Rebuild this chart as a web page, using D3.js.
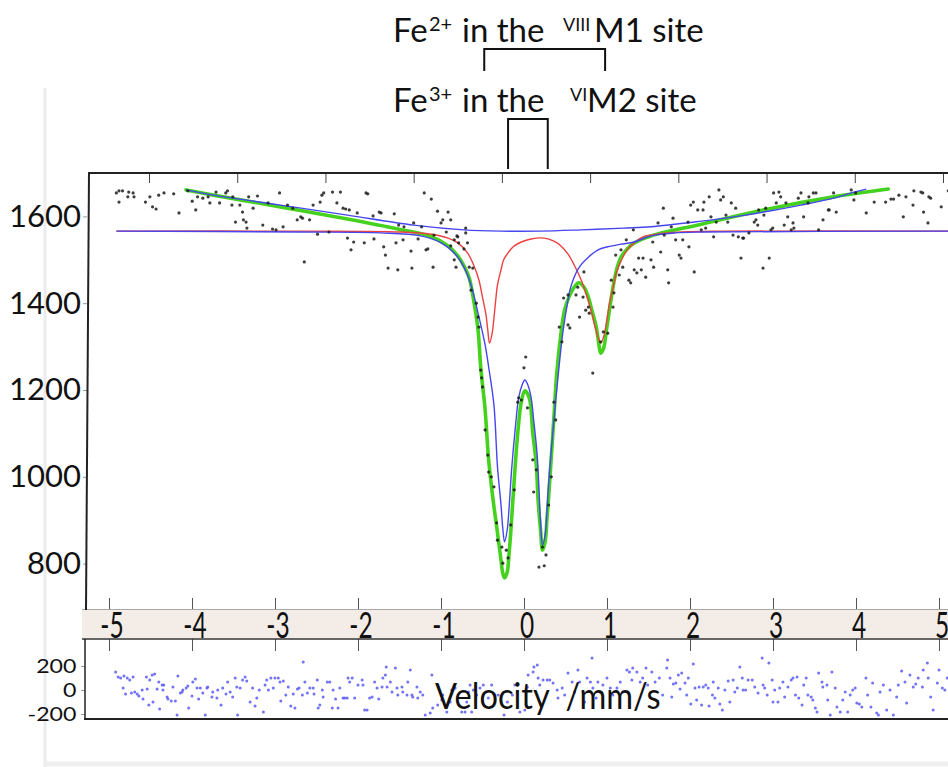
<!DOCTYPE html>
<html>
<head>
<meta charset="utf-8">
<script src="https://cdn.jsdelivr.net/npm/d3@7"></script>
<style>
  html, body { margin: 0; padding: 0; background: #fff; }
  svg { display: block; font-family: Lato, "Open Sans", sans-serif; }
</style>
</head>
<body>
<svg id="chart" width="948" height="767"></svg>
<script>
// ---- Mössbauer spectrum: measured counts vs velocity (mm/s) ----
const spectrum = [
[-4.37,1654],[-4.34,1659],[-4.30,1659],[-4.34,1633],[-4.23,1656],[-4.18,1654],[-4.24,1645],[-4.17,1645],[-4.04,1633],[-3.99,1645],
[-3.96,1622],[-3.92,1617],[-3.89,1649],[-3.83,1654],[-3.72,1652],[-3.66,1608],[-3.56,1659],[-3.51,1635],[-3.47,1615],[-3.45,1645],
[-3.39,1642],[-3.33,1645],[-3.31,1631],[-3.24,1656],[-3.20,1631],[-3.13,1654],[-3.11,1659],[-3.05,1645],[-3.06,1626],[-3.02,1587],
[-2.97,1626],[-2.94,1610],[-2.93,1592],[-2.90,1587],[-2.89,1573],[-2.87,1645],[-2.82,1619],[-2.77,1647],[-2.71,1580],[-2.65,1631],
[-2.60,1571],[-2.56,1569],[-2.52,1654],[-2.48,1576],[-2.43,1626],[-2.37,1619],[-2.32,1592],[-2.28,1599],[-2.24,1495],[-2.26,1596],
[-2.18,1592],[-2.14,1626],[-2.09,1559],[-2.06,1633],[-2.04,1649],[-2.02,1654],[-1.96,1564],[-1.92,1656],[-1.87,1631],[-1.83,1656],
[-1.80,1619],[-1.77,1617],[-1.75,1550],[-1.73,1615],[-1.71,1523],[-1.68,1541],[-1.64,1608],[-1.56,1539],[-1.54,1654],[-1.52,1652],
[-1.46,1601],[-1.45,1548],[-1.39,1610],[-1.37,1608],[-1.34,1530],[-1.32,1511],[-1.29,1481],[-1.22,1606],[-1.20,1539],[-1.18,1477],
[-1.17,1580],[-1.12,1546],[-1.11,1576],[-1.03,1520],[-1.02,1481],[-1.00,1585],[-0.95,1548],[-0.91,1576],[-0.88,1654],[-0.86,1523],
[-0.84,1525],[-0.80,1640],[-0.78,1483],[-0.77,1557],[-0.73,1612],[-0.69,1585],[-0.67,1592],[-0.63,1564],[-0.61,1610],[-0.58,1532],
[-0.58,1592],[-0.54,1546],[-0.54,1500],[-0.52,1483],[-0.51,1555],[-0.50,1553],[-0.49,1539],[-0.43,1525],[-0.41,1562],[-0.41,1573],
[-0.39,1539],[-0.37,1483],[-0.35,1430],[-0.33,1481],[-0.29,1400],[-0.27,1368],[-0.26,1345],[-0.24,1246],[-0.23,1228],[-0.22,1207],
[-0.19,1108],[-0.16,1050],[-0.15,1011],[-0.12,1000],[-0.09,977],[-0.06,894],[-0.05,854],[0.00,838],[0.01,801],[0.05,831],
[0.07,813],[0.10,889],[0.14,970],[0.18,1172],[0.19,1182],[0.22,1177],[0.25,1251],[0.27,1276],[0.29,1159],[0.35,1039],
[0.36,965],[0.39,1016],[0.42,792],[0.46,838],[0.48,795],[0.50,820],[0.53,935],[0.56,1000],[0.59,1172],[0.61,1131],
[0.65,1345],[0.68,1311],[0.70,1412],[0.75,1350],[0.75,1419],[0.77,1343],[0.84,1419],[0.86,1437],[0.88,1368],[0.92,1414],
[0.93,1472],[0.95,1384],[0.98,1391],[0.99,1377],[1.03,1239],[1.12,1311],[1.15,1334],[1.20,1331],[1.24,1453],[1.26,1391],
[1.27,1424],[1.29,1511],[1.33,1465],[1.35,1523],[1.37,1483],[1.41,1546],[1.44,1453],[1.46,1447],[1.49,1569],[1.50,1477],
[1.53,1470],[1.55,1504],[1.58,1477],[1.60,1504],[1.63,1460],[1.69,1500],[1.71,1541],[1.72,1483],[1.77,1585],[1.80,1518],
[1.83,1619],[1.84,1557],[1.88,1477],[1.89,1447],[1.92,1576],[1.94,1596],[1.97,1546],[2.01,1511],[2.03,1504],[2.05,1546],
[2.11,1587],[2.12,1530],[2.14,1626],[2.17,1633],[2.18,1472],[2.22,1615],[2.26,1569],[2.28,1615],[2.29,1633],[2.31,1573],
[2.35,1645],[2.37,1599],[2.40,1553],[2.43,1587],[2.46,1661],[2.48,1638],[2.51,1645],[2.54,1603],[2.56,1587],[2.60,1631],
[2.62,1557],[2.65,1619],[2.68,1553],[2.71,1504],[2.73,1550],[2.74,1550],[2.80,1562],[2.86,1587],[2.88,1592],[2.90,1580],
[2.91,1615],[2.96,1481],[2.97,1603],[2.99,1619],[3.03,1504],[3.05,1569],[3.07,1573],[3.08,1654],[3.11,1631],[3.14,1656],
[3.16,1645],[3.20,1580],[3.22,1631],[3.24,1599],[3.28,1569],[3.30,1585],[3.31,1573],[3.36,1642],[3.39,1654],[3.42,1599],
[3.47,1631],[3.48,1645],[3.53,1654],[3.56,1654],[3.59,1569],[3.64,1592],[3.70,1615],[3.71,1615],[3.76,1654],[3.79,1610],
[3.96,1661],[3.99,1638],[4.01,1654],[4.13,1608],[4.22,1633],[4.35,1633],[4.41,1640],[4.44,1640],[4.50,1649],[4.55,1599],
[4.58,1645],[4.66,1626],[4.67,1659],[4.75,1656],[4.77,1654],[4.78,1610],[4.83,1585],[4.84,1645],[4.86,1642],[4.98,1622],
[5.06,1659]
];

// ---- fitted curves [velocity, counts] ----
const fitTotal = [
[-3.58,1661],[-3.27,1649],[-2.51,1622],[-1.75,1594],[-1.18,1571],[-0.80,1553],[-0.61,1532],[-0.50,1509],[-0.43,1486],[-0.37,1458],
[-0.32,1407],[-0.27,1338],[-0.24,1253],[-0.19,1154],[-0.15,1039],[-0.10,947],[-0.05,871],[-0.01,808],[0.01,778],[0.03,767],
[0.06,780],[0.08,820],[0.10,871],[0.14,993],[0.18,1101],[0.22,1172],[0.26,1198],[0.31,1182],[0.35,1101],[0.39,1027],
[0.41,947],[0.44,873],[0.46,831],[0.49,850],[0.51,900],[0.53,954],[0.59,1138],[0.62,1235],[0.67,1331],[0.71,1384],
[0.76,1414],[0.82,1437],[0.87,1447],[0.93,1437],[0.98,1414],[1.02,1384],[1.07,1345],[1.10,1304],[1.12,1285],[1.15,1294],
[1.19,1345],[1.26,1437],[1.30,1477],[1.35,1506],[1.42,1525],[1.50,1539],[1.69,1555],[2.26,1582],[3.02,1617],[3.76,1645],
[4.38,1663]
];
const fitFe2M1 = [
[-4.37,1566],[-2.28,1566],[-1.15,1564],[-0.80,1559],[-0.61,1550],[-0.50,1539],[-0.39,1516],[-0.32,1488],[-0.26,1453],[-0.22,1414],
[-0.18,1373],[-0.16,1338],[-0.14,1308],[-0.11,1331],[-0.09,1366],[-0.07,1407],[-0.05,1442],[-0.01,1477],[0.02,1500],[0.07,1516],
[0.14,1532],[0.22,1541],[0.33,1548],[0.48,1550],[0.59,1543],[0.67,1532],[0.75,1513],[0.82,1488],[0.90,1453],[0.95,1424],
[1.01,1384],[1.05,1350],[1.09,1322],[1.12,1308],[1.16,1327],[1.19,1361],[1.22,1400],[1.26,1435],[1.30,1472],[1.35,1497],
[1.42,1523],[1.50,1539],[1.60,1553],[1.75,1559],[2.03,1564],[2.48,1566],[5.07,1566]
];
const fitFe3M2 = [
[-4.37,1566],[-2.28,1564],[-1.37,1562],[-0.92,1555],[-0.69,1539],[-0.52,1511],[-0.43,1483],[-0.35,1442],[-0.26,1368],[-0.19,1304],
[-0.15,1253],[-0.09,1165],[-0.05,1023],[-0.01,935],[0.01,882],[0.03,850],[0.06,877],[0.08,924],[0.11,1016],[0.15,1108],
[0.19,1182],[0.23,1212],[0.26,1223],[0.29,1214],[0.33,1184],[0.36,1131],[0.40,1050],[0.44,889],[0.46,843],[0.49,866],
[0.51,919],[0.53,986],[0.57,1085],[0.61,1177],[0.65,1258],[0.69,1331],[0.74,1396],[0.78,1437],[0.87,1481],[0.98,1506],
[1.09,1523],[1.20,1530],[1.35,1536],[1.50,1541],[1.69,1555],[1.97,1562],[2.26,1564],[5.07,1566]
];
const fitBroad = [
[-3.58,1661],[-3.27,1649],[-2.51,1626],[-1.75,1603],[-1.00,1580],[-0.43,1569],[-0.01,1566],[0.44,1566],[0.90,1569],[1.38,1573],
[1.69,1576],[2.26,1589],[2.63,1599],[3.02,1612],[3.39,1626],[3.76,1642],[3.99,1656],[4.13,1663]
];

// ---- residuals [velocity, counts] ----
const residuals = [
[-4.92,150],[-4.89,108],[-4.86,100],[-4.82,117],[-4.78,100],[-4.75,83],[-4.71,108],[-4.83,17],[-4.80,-33],[-4.73,-25],
[-4.69,-17],[-4.66,-33],[-4.64,-50],[-4.60,0],[-4.59,-75],[-4.54,8],[-4.55,108],[-4.52,-125],[-4.48,125],[-4.47,-100],
[-4.51,83],[-4.45,133],[-4.42,8],[-4.40,67],[-4.39,-158],[-4.36,42],[-4.34,42],[-4.35,0],[-4.30,-58],[-4.29,-75],
[-4.25,-92],[-4.23,25],[-4.20,-92],[-4.18,-208],[-4.17,117],[-4.14,-25],[-4.12,-17],[-4.11,0],[-4.07,17],[-4.05,33],
[-4.04,-150],[-4.00,-50],[-3.99,67],[-3.96,92],[-3.94,17],[-3.92,-75],[-3.90,17],[-3.87,-25],[-3.84,-208],[-3.82,17],
[-3.81,25],[-3.76,-58],[-3.75,-17],[-3.70,-67],[-3.69,0],[-3.65,-125],[-3.63,17],[-3.59,-33],[-3.57,67],[-3.54,-17],
[-3.51,-58],[-3.48,100],[-3.46,25],[-3.45,-208],[-3.42,17],[-3.39,83],[-3.36,108],[-3.34,75],[-3.30,-100],[-3.27,17],
[-3.24,-133],[-3.22,-67],[-3.19,0],[-3.14,-183],[-3.12,42],[-3.10,83],[-3.08,0],[-3.05,100],[-3.02,17],[-3.00,100],
[-2.96,100],[-2.94,67],[-2.90,75],[-2.93,-92],[-2.87,-42],[-2.84,25],[-2.81,-133],[-2.78,-33],[-2.76,-150],[-2.73,8],
[-2.71,17],[-2.67,-42],[-2.66,233],[-2.64,67],[-2.61,-25],[-2.58,17],[-2.54,17],[-2.53,-33],[-2.49,83],[-2.48,-150],
[-2.46,-125],[-2.43,0],[-2.42,-58],[-2.37,67],[-2.34,67],[-2.31,-150],[-2.30,0],[-2.27,-75],[-2.24,-150],[-2.22,17],
[-2.18,-67],[-2.16,-67],[-2.13,-67],[-2.12,100],[-2.10,67],[-2.07,100],[-2.04,-67],[-2.00,42],[-1.95,83],[-1.94,42],
[-1.92,-167],[-1.89,-167],[-1.86,-67],[-1.83,-58],[-1.80,67],[-1.77,17],[-1.75,-75],[-1.71,25],[-1.70,100],[-1.67,125],
[-1.66,192],[-1.65,25],[-1.61,67],[-1.59,-17],[-1.55,183],[-1.53,17],[-1.52,-42],[-1.47,25],[-1.46,-17],[-1.41,-42],
[-1.40,67],[-1.37,167],[-1.35,-42],[-1.34,-58],[-1.29,25],[-1.28,-67],[-1.25,-17],[-1.22,-42],[-1.19,-208],[-1.13,-192],
[-1.11,125],[-1.10,-150],[-1.04,-125],[-0.99,-83],[-0.98,-42],[-0.93,-183],[-0.89,-100],[-0.87,0],[-0.83,17],[-0.80,-67],
[-0.75,-183],[-0.71,-183],[-0.69,-100],[-0.67,-17],[-0.65,42],[-0.63,-183],[-0.61,0],[-0.57,-42],[-0.53,17],[-0.49,42],
[-0.46,-17],[-0.43,-67],[-0.39,42],[-0.35,-42],[-0.31,-42],[-0.24,-208],[-0.20,-100],[-0.14,-42],[-0.11,42],[-0.08,-17],
[-0.05,-183],[0.01,-167],[0.04,25],[0.05,125],[0.11,150],[0.12,192],[0.16,208],[0.17,100],[0.19,42],[0.23,83],
[0.28,83],[0.31,83],[0.35,58],[0.40,0],[0.41,-67],[0.46,17],[0.49,-42],[0.53,142],[0.58,67],[0.61,-17],
[0.65,167],[0.67,67],[0.71,-17],[0.73,-100],[0.76,100],[0.80,67],[0.82,267],[0.83,17],[0.87,-67],[0.89,67],
[0.92,-17],[0.95,42],[1.00,100],[1.04,17],[1.07,-42],[1.12,17],[1.16,67],[1.19,-17],[1.24,167],[1.27,150],
[1.30,83],[1.31,183],[1.36,150],[1.40,67],[1.43,100],[1.47,183],[1.49,42],[1.54,150],[1.58,67],[1.63,100],
[1.67,-42],[1.72,183],[1.73,250],[1.76,100],[1.80,50],[1.78,-58],[1.83,58],[1.86,125],[1.88,8],[1.90,142],
[1.94,58],[1.96,-42],[1.98,100],[2.01,-117],[2.04,217],[2.06,17],[2.08,-83],[2.11,25],[2.14,-125],[2.16,25],
[2.19,42],[2.22,17],[2.23,-133],[2.27,-42],[2.28,67],[2.30,-67],[2.34,17],[2.36,-117],[2.39,-167],[2.42,0],
[2.46,75],[2.48,-100],[2.52,83],[2.54,-17],[2.57,17],[2.60,192],[2.63,100],[2.64,0],[2.67,0],[2.70,83],
[2.75,83],[2.78,25],[2.82,-25],[2.87,267],[2.88,42],[2.90,17],[2.93,-42],[2.95,225],[2.99,83],[3.00,-100],
[3.02,0],[3.06,-100],[3.08,17],[3.12,67],[3.14,-58],[3.18,25],[3.22,83],[3.24,100],[3.27,-42],[3.29,108],
[3.31,-67],[3.35,-125],[3.37,42],[3.40,100],[3.42,-42],[3.46,-58],[3.48,-83],[3.51,-150],[3.53,-183],[3.55,142],
[3.59,67],[3.60,25],[3.65,42],[3.66,-83],[3.69,-208],[3.71,150],[3.75,17],[3.77,-142],[3.81,-183],[3.84,-83],
[3.87,-17],[3.90,-183],[3.93,-42],[3.96,0],[3.99,17],[4.01,-108],[4.04,-117],[4.07,-142],[4.12,100],[4.14,-42],
[4.18,-142],[4.20,58],[4.25,-192],[4.27,-208],[4.29,-17],[4.33,42],[4.37,-167],[4.41,0],[4.45,-208],[4.49,-58],
[4.51,42],[4.55,158],[4.59,67],[4.61,-108],[4.65,125],[4.69,25],[4.72,50],[4.75,100],[4.80,25],[4.81,167],
[4.86,225],[4.87,100],[4.90,-58],[4.93,-167],[4.98,58],[5.00,167],[5.04,17],[5.07,0],[5.10,100]
];

// ---- axes ----
const mainTopTicks = [-4, -3, -2, -1, 0, 1, 2, 3, 4, 5];
const countTicks = [800, 1000, 1200, 1400, 1600];
const velocityTicks = [-5, -4, -3, -2, -1, 0, 1, 2, 3, 4, 5];
const residualTicks = [-200, 0, 200];

// ---- site assignments (doublet line positions, mm/s) ----
const fe2M1Lines = [-0.20, 1.17];
const fe3M2Lines = [0.07, 0.52];

const svg = d3.select("#chart");
const intLabel = d => d3.format("d")(d).replace("\u2212", "-");

const xMain = d3.scaleLinear().domain([-4, 5]).range([149, 943]);
const yMain = d3.scaleLinear().domain([700, 1700]).range([607, 173]);
const xVel  = d3.scaleLinear().domain([-5, 5]).range([109, 939]);
const yRes  = d3.scaleLinear().domain([-200, 200]).range([714, 666]);

// light page frame
svg.append("line").attr("x1", 45).attr("x2", 45).attr("y1", 88).attr("y2", 767)
  .attr("stroke", "#ececec").attr("stroke-width", 3);
svg.append("line").attr("x1", 45).attr("x2", 948).attr("y1", 764).attr("y2", 764)
  .attr("stroke", "#efefef").attr("stroke-width", 5);

// ---- velocity band between panels ----
svg.append("rect").attr("x", 82).attr("y", 610).attr("width", 866).attr("height", 28)
  .attr("fill", "#f3ece7");
svg.append("line").attr("x1", 82).attr("x2", 948).attr("y1", 609.5).attr("y2", 609.5)
  .attr("stroke", "#a8a8a8").attr("stroke-width", 1);

const bandTop = svg.append("g").attr("transform", "translate(0,609)")
  .call(d3.axisTop(xVel).tickValues(velocityTicks).tickSize(11).tickFormat(""));
const bandBot = svg.append("g").attr("transform", "translate(0,639)")
  .call(d3.axisBottom(xVel).tickValues(velocityTicks).tickSize(12).tickFormat(""));
[bandTop, bandBot].forEach(g => {
  g.select(".domain").remove();
  g.selectAll(".tick line").attr("stroke", "#555").attr("stroke-width", 1);
});

svg.append("g").selectAll("text").data(velocityTicks).join("text")
  .attr("transform", d => `translate(${xVel(d) + 3},638) scale(0.68,1)`)
  .attr("text-anchor", "middle")
  .attr("font-size", 36)
  .attr("fill", "#111")
  .text(intLabel);

svg.append("line").attr("x1", 82).attr("x2", 948).attr("y1", 639).attr("y2", 639)
  .attr("stroke", "#333").attr("stroke-width", 1.5);

// ---- main panel frame and axes ----
const topAxis = svg.append("g").attr("transform", "translate(0,173)")
  .call(d3.axisBottom(xMain).tickValues(mainTopTicks).tickSize(10).tickFormat(""));
topAxis.select(".domain").remove();
topAxis.selectAll(".tick line").attr("stroke", "#444").attr("stroke-width", 1);
svg.append("line").attr("x1", 88).attr("x2", 948).attr("y1", 173).attr("y2", 173)
  .attr("stroke", "#222").attr("stroke-width", 2);

const leftAxis = svg.append("g").attr("transform", "translate(87,0)")
  .call(d3.axisLeft(yMain).tickValues(countTicks).tickSize(4).tickPadding(2).tickFormat(d3.format("d")));
leftAxis.select(".domain").remove();
leftAxis.selectAll(".tick line").attr("stroke", "#999");
leftAxis.selectAll(".tick text").attr("font-size", 31).attr("fill", "#111")
  .attr("font-family", "Lato, 'Open Sans', sans-serif");
svg.append("line").attr("x1", 89).attr("x2", 86).attr("y1", 172).attr("y2", 610)
  .attr("stroke", "#222").attr("stroke-width", 2);

// ---- fitted components ----
const fitLine = d3.line()
  .x(d => xMain(d[0]))
  .y(d => yMain(d[1]))
  .curve(d3.curveCatmullRom.alpha(0.5));

svg.append("path").datum(fitTotal).attr("d", fitLine)
  .attr("fill", "none").attr("stroke", "#45d21e").attr("stroke-width", 3.6)
  .attr("stroke-linecap", "round").attr("stroke-linejoin", "round");
svg.append("path").datum(fitFe2M1).attr("d", fitLine)
  .attr("fill", "none").attr("stroke", "#ee4040").attr("stroke-width", 1.4);
svg.append("path").datum(fitBroad).attr("d", fitLine)
  .attr("fill", "none").attr("stroke", "#4646ee").attr("stroke-width", 1.4);
svg.append("path").datum(fitFe3M2).attr("d", fitLine)
  .attr("fill", "none").attr("stroke", "#4646ee").attr("stroke-width", 1.4);

// measured counts
svg.append("g").selectAll("circle").data(spectrum).join("circle")
  .attr("cx", d => xMain(d[0]))
  .attr("cy", d => yMain(d[1]))
  .attr("r", 1.6)
  .attr("fill", "#1b1b1b")
  .attr("opacity", 0.85);

// ---- residual panel ----
const resAxis = svg.append("g").attr("transform", "translate(85,0)")
  .call(d3.axisLeft(yRes).tickValues(residualTicks).tickSize(4).tickPadding(3).tickFormat(intLabel));
resAxis.select(".domain").remove();
resAxis.selectAll(".tick line").attr("stroke", "#999");
resAxis.selectAll(".tick text")
  .attr("font-size", 19)
  .attr("fill", "#111")
  .attr("font-family", "Lato, 'Open Sans', sans-serif")
  .attr("transform", "scale(1.22,1)");

svg.append("g").selectAll("circle").data(residuals).join("circle")
  .attr("cx", d => xVel(d[0]))
  .attr("cy", d => yRes(d[1]))
  .attr("r", 1.5)
  .attr("fill", "#5a5af6")
  .attr("opacity", 0.85);

svg.append("line").attr("x1", 85).attr("x2", 85).attr("y1", 639).attr("y2", 720)
  .attr("stroke", "#222").attr("stroke-width", 1.5);
svg.append("line").attr("x1", 84).attr("x2", 948).attr("y1", 719).attr("y2", 719)
  .attr("stroke", "#222").attr("stroke-width", 2);

svg.append("text")
  .attr("transform", "translate(435,709) scale(0.88,1)")
  .attr("font-size", 37)
  .attr("fill", "#111")
  .style("white-space", "pre")
  .text("Velocity  /mm/s");

// ---- site labels with brackets ----
function siteLabel(y, charge, coord, site) {
  const t = svg.append("text").attr("y", y).attr("font-size", 33).attr("fill", "#111");
  t.append("tspan").attr("x", 393).text("Fe");
  t.append("tspan").attr("x", 429).attr("dy", -11).attr("font-size", 20).text(charge);
  t.append("tspan").attr("x", 462).attr("dy", 11).text("in the");
  t.append("tspan").attr("x", coord.x).attr("dy", -11).attr("font-size", 18).text(coord.text);
  t.append("tspan").attr("x", site.x).attr("dy", 11).text(site.text);
}
siteLabel(42, "2+", { x: 563, text: "VIII" }, { x: 594, text: "M1 site" });
siteLabel(112, "3+", { x: 570, text: "VI" }, { x: 587, text: "M2 site" });

function bracket(lines, yTop, yBottom) {
  const [a, b] = lines.map(xMain);
  svg.append("path")
    .attr("d", `M${a},${yBottom}V${yTop}H${b}V${yBottom}`)
    .attr("fill", "none").attr("stroke", "#111").attr("stroke-width", 2);
}
bracket(fe2M1Lines, 49, 71);
bracket(fe3M2Lines, 119, 169);
</script>
</body>
</html>
